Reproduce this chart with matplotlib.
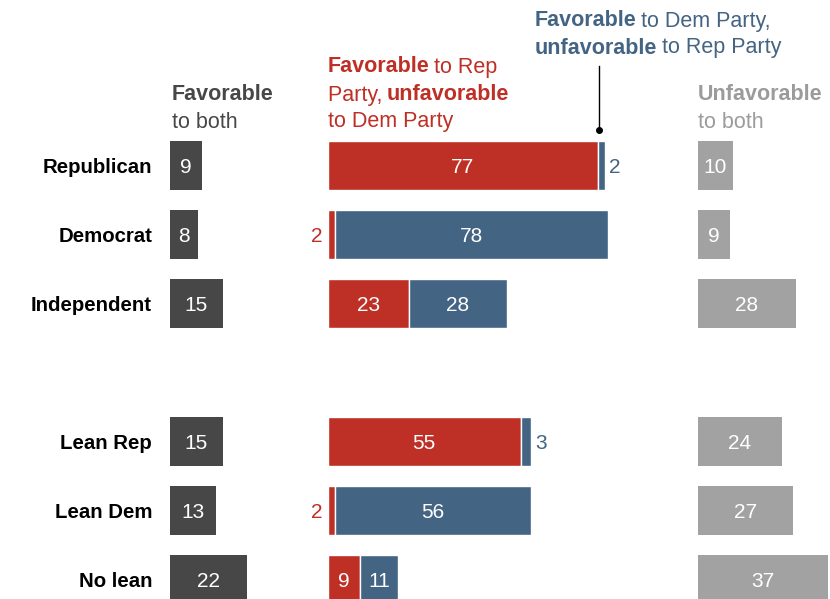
import matplotlib
matplotlib.use("Agg")
import matplotlib.pyplot as plt

groups = ["Republican", "Democrat", "Independent", "Lean Rep", "Lean Dem", "No lean"]
fav_both = [9, 8, 15, 15, 13, 22]
fav_rep = [77, 2, 23, 55, 2, 9]
fav_dem = [2, 78, 28, 3, 56, 11]
unfav_both = [10, 9, 28, 24, 27, 37]
row_pos = [0, 1, 2, 4, 5, 6]

DARK = "#474747"
RED = "#be2f26"
BLUE = "#436482"
GRAY = "#a2a2a2"
GRAY_TXT = "#9b9b9b"

plt.rcParams["font.family"] = ["Liberation Sans", "DejaVu Sans"]

W, H = 830, 599
PX = 3.5          # pixels per percentage point
PITCH = 69        # pixels per row
Y0 = 165          # pixel centre of first row

fig = plt.figure(figsize=(W / 100, H / 100), dpi=100)
ax = fig.add_axes([0, 0, 1, 1])
ax.set_xlim(0, W / PX)
ax.set_ylim((H - Y0) / PITCH, -Y0 / PITCH)
ax.axis("off")

def px(x):
    return x / PX

def py(y):
    return (y - Y0) / PITCH

x_left = px(170)
x_mid = px(328)
x_right = px(698)
bh = 49 / PITCH
dy = 2.5 / PITCH   # nudge text down a little so it sits centred like the original
fs_num = 15
fs_hdr = 15.5
fs_lab = 14.7

ax.barh(row_pos, fav_both, left=x_left, height=bh, color=DARK)
ax.barh(row_pos, fav_rep, left=x_mid, height=bh, color=RED, edgecolor="white", linewidth=1)
dem_left = [x_mid + r for r in fav_rep]
ax.barh(row_pos, fav_dem, left=dem_left, height=bh, color=BLUE, edgecolor="white", linewidth=1)
ax.barh(row_pos, unfav_both, left=x_right, height=bh, color=GRAY)

for i, yr in enumerate(row_pos):
    y = yr + dy
    ax.text(px(152), y, groups[i], ha="right", va="center", fontsize=fs_lab, fontweight="bold", color="black")
    ax.text(x_left + fav_both[i] / 2, y, str(fav_both[i]), ha="center", va="center", fontsize=fs_num, color="white")
    ax.text(x_right + unfav_both[i] / 2, y, str(unfav_both[i]), ha="center", va="center", fontsize=fs_num, color="white")
    r, d = fav_rep[i], fav_dem[i]
    if r <= 3:
        ax.text(x_mid - px(5), y, str(r), ha="right", va="center", fontsize=fs_num, color=RED)
    else:
        ax.text(x_mid + r / 2, y, str(r), ha="center", va="center", fontsize=fs_num, color="white")
    if d <= 3:
        ax.text(x_mid + r + d + px(4), y, str(d), ha="left", va="center", fontsize=fs_num, color=BLUE)
    else:
        ax.text(x_mid + r + d / 2, y, str(d), ha="center", va="center", fontsize=fs_num, color="white")

renderer = fig.canvas.get_renderer()
inv = ax.transData.inverted()

def runs(x, y, parts, color):
    # draw a line made of bold / regular pieces, placed one after the other
    for s, w in parts:
        t = ax.text(x, y, s, ha="left", va="center", fontsize=fs_hdr, fontweight=w, color=color)
        bb = t.get_window_extent(renderer)
        x = inv.transform((bb.x1, bb.y0))[0] - px(1.5)

hdr = [
    (172, [(93, [("Favorable", "bold")]), (120, [("to both", "normal")])], DARK),
    (328, [(65, [("Favorable", "bold"), (" to Rep", "normal")]),
           (93, [("Party, ", "normal"), ("unfavorable", "bold")]),
           (120, [("to Dem Party", "normal")])], RED),
    (535, [(19, [("Favorable", "bold"), (" to Dem Party,", "normal")]),
           (46, [("unfavorable", "bold"), (" to Rep Party", "normal")])], BLUE),
    (698, [(93, [("Unfavorable", "bold")]), (120, [("to both", "normal")])], GRAY_TXT),
]
for x0, lines, c in hdr:
    for yl, parts in lines:
        runs(px(x0), py(yl + 2), parts, c)

ax.plot([px(599), px(599)], [py(66), py(130)], color="black", lw=1)
ax.plot(px(599), py(130), "o", color="black", ms=4)

fig.savefig("out.png", dpi=100)
